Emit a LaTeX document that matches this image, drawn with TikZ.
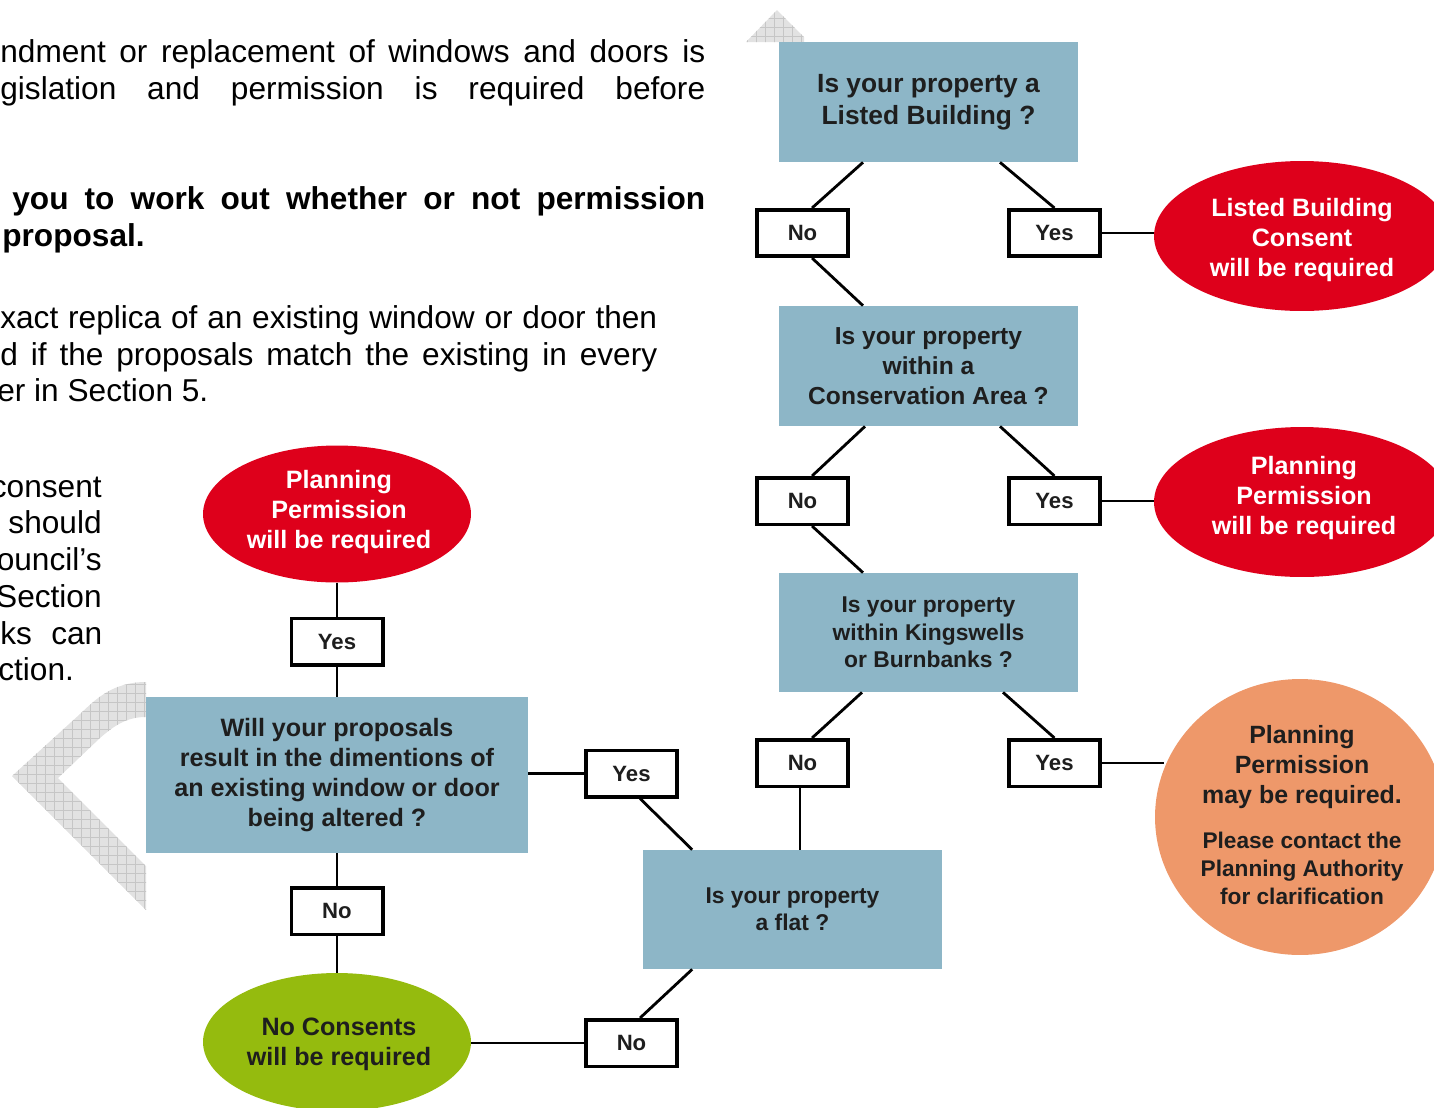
\documentclass[tikz,border=0pt]{standalone}
\usepackage{fontspec}
\setmainfont{Liberation Sans}
\usetikzlibrary{shapes.geometric}

\definecolor{qblue}{RGB}{141,182,199}
\definecolor{qtext}{RGB}{30,30,30}
\definecolor{endred}{RGB}{222,0,27}
\definecolor{endorange}{RGB}{238,152,106}
\definecolor{endgreen}{RGB}{149,187,14}
\definecolor{chevron}{RGB}{226,226,226}

\begin{document}
\begin{tikzpicture}[x=0.02cm, y=-0.02cm,
  question/.style={rectangle, fill=qblue, text=qtext, minimum width=6cm, minimum height=2.4cm, align=center, inner sep=0pt},
  answer/.style={rectangle, draw=black, line width=2pt, fill=white, minimum width=1.83cm, minimum height=0.93cm, inner sep=0pt, text=qtext, font=\bfseries\fontsize{12.6}{14}\selectfont},
  outcome/.style={ellipse, inner sep=0pt},
  link/.style={line width=1.6pt},
  body/.style={inner sep=0pt, font=\fontsize{18}{21}\selectfont}]
\useasboundingbox (0,0) rectangle (1434,1107);
\clip (0,0) rectangle (1434,1107);

% grey chevrons behind the chart
\begin{scope}
\clip (746,42) -- (777,10) -- (804,37) -- (804,42) -- cycle;
\fill[chevron] (740,0) rectangle (810,45);
\draw[gray!45, very thin, step=0.18cm] (740,45) grid (810,0);
\end{scope}
\begin{scope}
\clip (146,682) .. controls (112,682) and (95,700) .. (80,714) -- (12,776) -- (146,910) -- (146,866) -- (58,778) -- (100,738) .. controls (116,724) and (128,717) .. (146,717) -- cycle;
\fill[chevron] (0,670) rectangle (150,920);
\draw[gray!45, very thin, step=0.18cm] (0,920) grid (150,670);
\end{scope}

% text of the page
\node[body, anchor=base west] (intro1) at (0,62) {\makebox[14.1cm][s]{ndment or replacement of windows and doors is}};
\node[body, anchor=base west] (intro2) at (0,99) {\makebox[14.1cm][s]{gislation and permission is required before}};
\node[body, anchor=base west, font=\bfseries\fontsize{18}{21}\selectfont] (aim1) at (12,209) {\makebox[13.86cm][s]{you to work out whether or not permission}};
\node[body, anchor=base west, font=\bfseries\fontsize{18}{21}\selectfont] (aim2) at (2,246) {proposal.};
\node[body, anchor=base west] (replica1) at (0,328) {\makebox[13.14cm][s]{xact replica of an existing window or door then}};
\node[body, anchor=base west] (replica2) at (0,365) {\makebox[13.14cm][s]{d if the proposals match the existing in every}};
\node[body, anchor=base west] (replica3) at (-3,401) {er in Section 5.};
\node[body, anchor=base east] (side1) at (102,497) {consent};
\node[body, anchor=base east] (side2) at (102,533) {should};
\node[body, anchor=base east] (side3) at (102,570) {ouncil’s};
\node[body, anchor=base east] (side4) at (102,607) {Section};
\node[body, anchor=base west] (side5) at (0,644) {\makebox[2.04cm][s]{ks can}};
\node[body, anchor=base west] (side6) at (-2,680) {ction.};

% questions
\node[question, font=\bfseries\fontsize{15}{18}\selectfont] (lb) at (928.5,102) {Is your property a\\Listed Building ?};
\node[question, font=\bfseries\fontsize{14}{17}\selectfont] (ca) at (928.5,366) {Is your property\\within a\\Conservation Area ?};
\node[question, minimum height=2.38cm, font=\bfseries\fontsize{13}{15.6}\selectfont] (kb) at (928.5,632.5) {Is your property\\within Kingswells\\or Burnbanks ?};
\node[question, minimum height=2.38cm, font=\bfseries\fontsize{13}{15.3}\selectfont] (flat) at (792.5,909.5) {Is your property\\a flat ?};
\node[question, minimum width=7.64cm, minimum height=3.12cm, font=\bfseries\fontsize{14.3}{17}\selectfont] (dim) at (337,775) {Will your proposals\\result in the dimentions of\\an existing window or door\\being altered ?};

% answers
\node[answer] (lbno) at (802.5,233) {No};
\node[answer] (lbyes) at (1054.5,233) {Yes};
\node[answer] (cano) at (802.5,501) {No};
\node[answer] (cayes) at (1054.5,501) {Yes};
\node[answer] (kbno) at (802.5,763) {No};
\node[answer] (kbyes) at (1054.5,763) {Yes};
\node[answer] (flyes) at (631.5,773.5) {Yes};
\node[answer] (flno) at (631.5,1043) {No};
\node[answer] (dimyes) at (337,641.5) {Yes};
\node[answer] (dimno) at (337,911) {No};

% outcomes
\node[outcome, fill=endred, minimum width=5.92cm, minimum height=3cm] (lbc) at (1302,236) {};
\node[text=white, font=\bfseries\fontsize{14.3}{17}\selectfont, align=center] (lbctext) at (1302,240) {Listed Building\\Consent\\will be required};
\node[outcome, fill=endred, minimum width=5.92cm, minimum height=3cm] (ppa) at (1302,502) {};
\node[text=white, font=\bfseries\fontsize{14.3}{17}\selectfont, align=center] (ppatext) at (1304,498) {Planning\\Permission\\will be required};
\node[outcome, fill=endorange, minimum width=5.8cm, minimum height=5.52cm] (ppk) at (1300,817) {};
\node[text=qtext, font=\bfseries\fontsize{14.2}{17.3}\selectfont, align=center] (ppktext) at (1302,767) {Planning\\Permission\\may be required.};
\node[text=qtext, font=\bfseries\fontsize{12.9}{15.9}\selectfont, align=center] (ppkmore) at (1302,868) {Please contact the\\Planning Authority\\for clarification};
\node[outcome, fill=endred, minimum width=5.36cm, minimum height=2.74cm] (ppd) at (337,514) {};
\node[text=white, font=\bfseries\fontsize{14.3}{17}\selectfont, align=center] (ppdtext) at (339,512) {Planning\\Permission\\will be required};
\node[outcome, fill=endgreen, minimum width=5.36cm, minimum height=2.76cm] (none) at (337,1042) {};
\node[text=qtext, font=\bfseries\fontsize{14.3}{17}\selectfont, align=center] (nonetext) at (339,1044) {No Consents\\will be required};

% connectors
\draw[link] ([xshift=-1.31cm]lb.south) -- ([xshift=0.19cm]lbno.north);
\draw[link] ([xshift=1.43cm]lb.south) -- (lbyes.north);
\draw[link] ([xshift=0.19cm]lbno.south) -- ([xshift=-1.31cm]ca.north);
\draw[link] (lbyes.east) -- (lbyes.east -| lbc.west);

\draw[link] ([xshift=-1.27cm]ca.south) -- ([xshift=0.19cm]cano.north);
\draw[link] ([xshift=1.43cm]ca.south) -- (cayes.north);
\draw[link] ([xshift=0.19cm]cano.south) -- ([xshift=-1.31cm]kb.north);
\draw[link] (cayes.east) -- (cayes.east -| ppa.west);

\draw[link] ([xshift=-1.33cm]kb.south) -- ([xshift=0.19cm]kbno.north);
\draw[link] ([xshift=1.49cm]kb.south) -- (kbyes.north);
\draw[link] ([xshift=-0.05cm]kbno.south) -- ([xshift=-0.05cm]kbno.south |- flat.north);
\draw[link] (kbyes.east) -- (kbyes.east -| ppk.160);

\draw[link] ([xshift=1cm]flat.north west) -- ([xshift=0.17cm]flyes.south);
\draw[link] (flyes.west) -- (flyes.west -| dim.east);
\draw[link] ([xshift=1cm]flat.south west) -- ([xshift=0.17cm]flno.north);
\draw[link] (flno.west) -- (flno.west -| none.east);

\draw[link] (ppd.south) -- (dimyes.north);
\draw[link] (dimyes.south) -- (dim.north);
\draw[link] (dim.south) -- (dimno.north);
\draw[link] (dimno.south) -- (none.north);
\end{tikzpicture}
\end{document}
